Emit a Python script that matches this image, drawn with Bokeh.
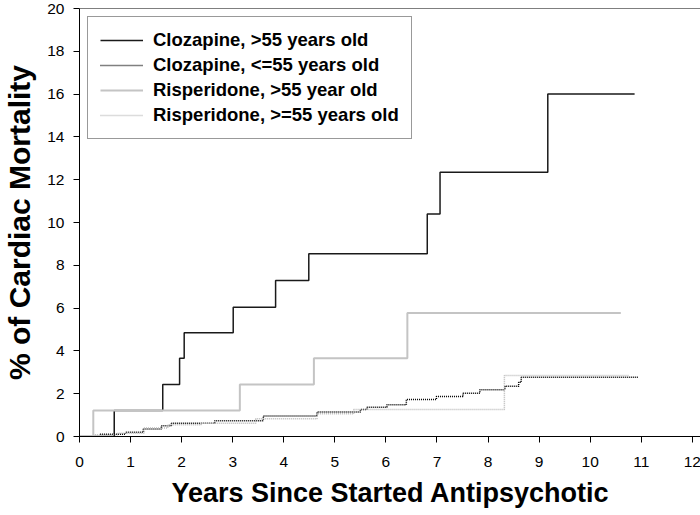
import math
from bokeh.plotting import figure
from bokeh.models import Range1d, FixedTicker, Legend, LegendItem, Span
from bokeh.embed import file_html
from bokeh.resources import INLINE

# ---- data ----
x_ticks = list(range(0, 13))
y_ticks = list(range(0, 21, 2))

cloz_old_x = [0, 0.68, 1.63, 1.96, 2.05, 3.01, 3.84, 4.49, 6.81, 7.06, 9.17, 10.87]
cloz_old_y = [0, 1.21, 2.43, 3.66, 4.85, 6.04, 7.29, 8.54, 10.4, 12.35, 16.01, 16.01]

cloz_young_x = [0.4, 0.9, 1.25, 1.6, 1.8, 2.65, 3.6, 4.65, 5.5, 5.63, 6.02, 6.4,
                6.99, 7.51, 7.84, 8.33, 8.6, 8.65, 10.95]
cloz_young_y = [0.1, 0.2, 0.35, 0.5, 0.62, 0.74, 0.96, 1.14, 1.26, 1.37, 1.48, 1.73,
                1.87, 2.02, 2.18, 2.35, 2.54, 2.77, 2.77]

risp_old_x = [0, 0.27, 3.14, 4.59, 6.42, 10.6]
risp_old_y = [0, 1.21, 2.43, 3.66, 5.77, 5.77]

risp_young_x = [0.3, 0.75, 1.27, 1.73, 2.38, 3.45, 4.65, 5.37, 8.32, 10.76]
risp_young_y = [0.08, 0.15, 0.4, 0.55, 0.62, 0.83, 1.06, 1.26, 2.85, 2.85]

labels = ["Clozapine, >55 years old", "Clozapine, <=55 years old",
          "Risperidone, >55 year old", "Risperidone, >=55 years old"]

x_title = "Years Since Started Antipsychotic"
y_title = "% of Cardiac Mortality"

X_MAX = 12.18
Y_MAX = 20

FONT = "Liberation Sans"

p = figure(frame_width=622, frame_height=428, output_backend="svg",
           toolbar_location=None,
           x_range=Range1d(0, X_MAX), y_range=Range1d(0, Y_MAX),
           min_border_left=78, min_border_right=0, min_border_top=8,
           min_border_bottom=60, margin=(0, 0, 0, 0))
p.outline_line_color = None
p.xgrid.visible = False
p.ygrid.visible = False
p.background_fill_color = "white"
p.border_fill_color = "white"

for ax, ticks in ((p.xaxis[0], x_ticks), (p.yaxis[0], y_ticks)):
    ax.ticker = FixedTicker(ticks=ticks)
    ax.minor_tick_line_color = None
    ax.major_tick_in = 0
    ax.major_tick_out = 6
    ax.axis_line_color = "black"
    ax.major_tick_line_color = "black"
    ax.major_label_text_font = FONT
    ax.major_label_text_font_size = "15.5px"
    ax.major_label_text_color = "black"
    ax.axis_label_text_font = FONT
    ax.axis_label_text_font_style = "bold"
    ax.axis_label_text_color = "black"
p.xaxis.axis_label_text_font_size = "27px"
p.yaxis.axis_label_text_font_size = "30px"
p.xaxis.major_label_standoff = 14
p.yaxis.major_label_standoff = 9
p.xaxis.axis_label = x_title
p.yaxis.axis_label = y_title
p.xaxis.axis_label_standoff = 8
p.yaxis.axis_label_standoff = 8

top = Span(location=Y_MAX, dimension="width", line_color="black", line_width=1)
p.add_layout(top)

r1 = p.step(cloz_old_x, cloz_old_y, mode="after", line_color="#1a1a1a", line_width=1.5)
r2 = p.step(cloz_young_x, cloz_young_y, mode="after", line_color="black",
            line_width=1.5, line_dash="1 1")
r3 = p.step(risp_old_x, risp_old_y, mode="after", line_color="#c4c4c4", line_width=2)
r4 = p.step(risp_young_x, risp_young_y, mode="after", line_color="#b8b8b8",
            line_width=1.5, line_dash="1 1")

legend = Legend(items=[LegendItem(label=labels[i], renderers=[r])
                       for i, r in enumerate([r1, r2, r3, r4])],
                location="top_left")
legend.margin = 8
legend.padding = 12
legend.spacing = 3
legend.label_height = 20
legend.glyph_height = 20
legend.glyph_width = 43
legend.label_standoff = 10
legend.label_text_font = FONT
legend.label_text_font_style = "bold"
legend.label_text_font_size = "18.5px"
legend.label_text_color = "black"
legend.border_line_color = "#333333"
legend.border_line_width = 1
legend.background_fill_color = "white"
legend.background_fill_alpha = 1
p.add_layout(legend)

open("out.html", "w").write(file_html(p, INLINE))
